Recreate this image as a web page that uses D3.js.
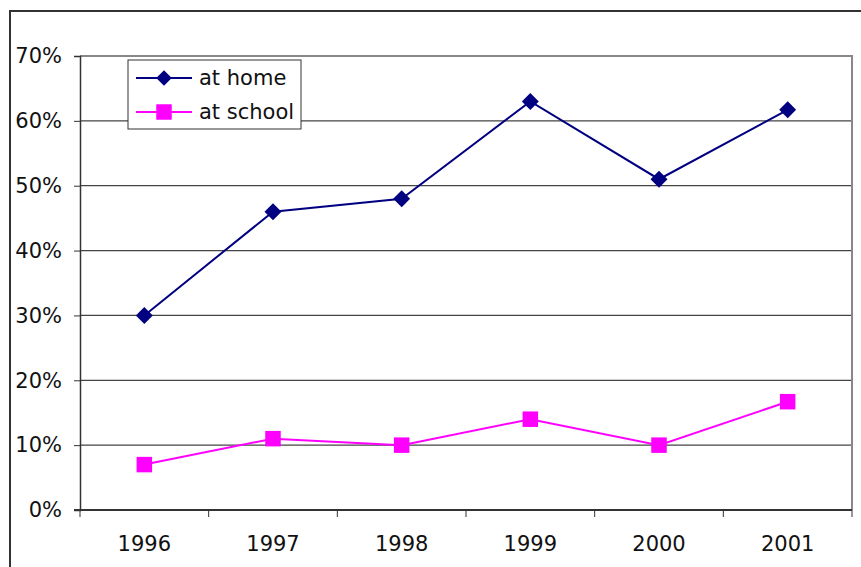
<!DOCTYPE html>
<html lang="en">
<head>
<meta charset="UTF-8">
<title>At home / at school</title>
<script src="https://d3js.org/d3.v7.min.js"></script>
<style>
    body, html { margin: 0; background: #fff; overflow: hidden; }
    svg { display: block; font-family: 'DejaVu Sans', Verdana, sans-serif; }
</style>
</head>
<body>
<svg id="chart" width="861" height="567"></svg>
<script>
const years = ['1996', '1997', '1998', '1999', '2000', '2001'];
const atHome = [30, 46, 48, 63, 51, 61.7];
const atSchool = [7, 11, 10, 14, 10, 16.7];
const yTicks = [0, 10, 20, 30, 40, 50, 60, 70];

const svg = d3.select('#chart');
const plotLeft = 80, plotRight = 852, plotTop = 56, plotBottom = 510;
const fontSize = 21;

// outer chart frame
svg.append('rect')
    .attr('x', 10).attr('y', 11).attr('width', 870).attr('height', 580)
    .attr('fill', 'none').attr('stroke', '#333').attr('stroke-width', 2);

const x = d3.scaleBand().domain(years).range([plotLeft, plotRight]);
const y = d3.scaleLinear().domain([0, 70]).range([plotBottom, plotTop]);

// gridlines
svg.append('g').selectAll('line')
    .data(yTicks.filter(d => d > 0 && d < 70))
    .join('line')
    .attr('x1', plotLeft).attr('x2', plotRight)
    .attr('y1', d => y(d)).attr('y2', d => y(d))
    .attr('stroke', '#444').attr('stroke-width', 1.2);

// plot area border (top/right gray)
svg.append('path')
    .attr('d', `M${plotLeft},${plotTop}H${plotRight}V${plotBottom}`)
    .attr('fill', 'none').attr('stroke', '#888').attr('stroke-width', 2);

// y axis
const yAxis = svg.append('g')
    .attr('transform', `translate(${plotLeft},0)`)
    .call(d3.axisLeft(y).tickValues(yTicks).tickSize(6).tickPadding(12).tickFormat(d => d + '%'));
yAxis.select('.domain').attr('stroke', '#333').attr('stroke-width', 1.5);
yAxis.selectAll('.tick line').attr('stroke', '#333');
yAxis.selectAll('text').attr('font-size', fontSize).attr('fill', '#111')
    .attr('font-family', "'DejaVu Sans', Verdana, sans-serif");

// x axis with ticks at category boundaries
const xAxis = svg.append('g').attr('transform', `translate(0,${plotBottom})`);
xAxis.append('line').attr('x1', plotLeft - 6).attr('x2', plotRight)
    .attr('stroke', '#333').attr('stroke-width', 2);
const bounds = years.map(d => x(d)).concat([plotRight]);
xAxis.selectAll('.tk').data(bounds).join('line')
    .attr('x1', d => d).attr('x2', d => d).attr('y1', 0).attr('y2', 7)
    .attr('stroke', '#333');
xAxis.selectAll('text').data(years).join('text')
    .attr('x', d => x(d) + x.bandwidth() / 2)
    .attr('y', 41)
    .attr('text-anchor', 'middle')
    .attr('font-size', fontSize).attr('fill', '#111')
    .text(d => d);

const cx = d => x(d) + x.bandwidth() / 2;
const line = d3.line().x(d => cx(d[0])).y(d => y(d[1]));

const series = [
    { name: 'at home', values: atHome, color: '#000080', symbol: d3.symbolSquare, size: 144, rotate: 45 },
    { name: 'at school', values: atSchool, color: '#FF00FF', symbol: d3.symbolSquare, size: 240, rotate: 0 }
];

series.forEach(s => {
    const pts = years.map((yr, i) => [yr, s.values[i]]);
    svg.append('path')
        .attr('d', line(pts))
        .attr('fill', 'none').attr('stroke', s.color).attr('stroke-width', 2);
    svg.append('g').selectAll('path').data(pts).join('path')
        .attr('transform', d => `translate(${cx(d[0])},${y(d[1])}) rotate(${s.rotate})`)
        .attr('d', d3.symbol().type(s.symbol).size(s.size))
        .attr('fill', s.color);
});

// legend
const lg = svg.append('g').attr('transform', 'translate(128,60)');
lg.append('rect').attr('width', 173).attr('height', 69)
    .attr('fill', '#fff').attr('stroke', '#333').attr('stroke-width', 1);
series.forEach((s, i) => {
    const ly = 18 + i * 34;
    lg.append('line').attr('x1', 8).attr('x2', 64).attr('y1', ly).attr('y2', ly)
        .attr('stroke', s.color).attr('stroke-width', 2);
    lg.append('path').attr('transform', `translate(36,${ly}) rotate(${s.rotate})`)
        .attr('d', d3.symbol().type(s.symbol).size(s.rotate ? 120 : 240)).attr('fill', s.color);
    lg.append('text').attr('x', 71).attr('y', ly + 7)
        .attr('font-size', fontSize).attr('fill', '#111').text(s.name);
});
</script>
</body>
</html>
